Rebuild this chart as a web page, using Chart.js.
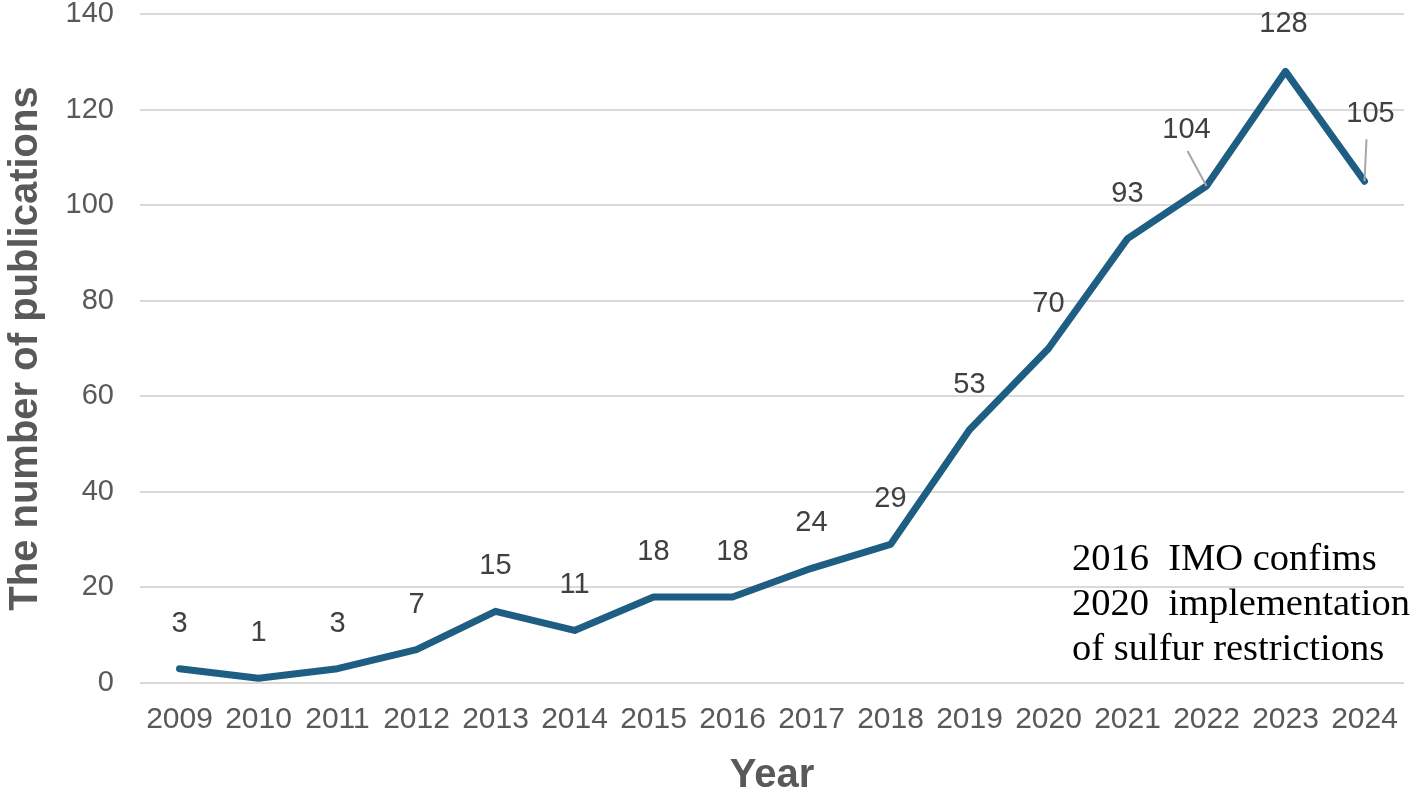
<!DOCTYPE html>
<html>
<head>
<meta charset="utf-8">
<script src="https://cdn.jsdelivr.net/npm/chart.js@4"></script>
<style>
  html, body { margin: 0; padding: 0; background: #fff; }
  #wrap { width: 1417px; height: 793px; position: relative; }
  #note {
    position: absolute; left: 1072px; top: 535px;
    font-family: 'Liberation Serif', 'Times New Roman', serif;
    font-size: 38.5px; line-height: 45px; color: #000; white-space: pre;
  }
</style>
</head>
<body>
<div id="wrap">
  <canvas id="pubChart" width="1417" height="793"></canvas>
  <div id="note">2016  IMO confims
2020  implementation
of sulfur restrictions</div>
</div>
<script>
const years = ['2009', '2010', '2011', '2012', '2013', '2014', '2015', '2016',
               '2017', '2018', '2019', '2020', '2021', '2022', '2023', '2024'];
const publications = [3, 1, 3, 7, 15, 11, 18, 18, 24, 29, 53, 70, 93, 104, 128, 105];
const yTicks = [0, 20, 40, 60, 80, 100, 120, 140];

// label offsets (px) where the label is pulled away from its point
const labelShift = { 13: [-20, -56, true], 14: [-2, -47, false], 15: [6, -67, true] };

const labelPlugin = {
    id: 'pointLabels',
    afterDatasetsDraw(chart) {
        const ctx = chart.ctx;
        const pts = chart.getDatasetMeta(0).data;
        ctx.save();
        ctx.font = "29px 'Liberation Sans', sans-serif";
        ctx.textAlign = 'center';
        ctx.textBaseline = 'middle';
        pts.forEach((p, i) => {
            const s = labelShift[i] || [0, -45, false];
            const lx = p.x + s[0], ly = p.y + s[1];
            if (s[2]) {
                ctx.strokeStyle = '#a6a6a6';
                ctx.lineWidth = 2;
                ctx.beginPath();
                if (i === 13) { ctx.moveTo(lx + 1, ly + 21); }
                else { ctx.moveTo(lx - 4, ly + 25); }
                ctx.lineTo(p.x, p.y);
                ctx.stroke();
            }
            ctx.fillStyle = '#404040';
            ctx.fillText(String(publications[i]), lx, ly);
        });
        ctx.restore();
    }
};

new Chart(document.getElementById('pubChart'), {
    type: 'line',
    data: {
        labels: years,
        datasets: [{
            data: publications,
            borderColor: '#1f5e83',
            borderWidth: 7,
            pointRadius: 0,
            tension: 0,
            borderJoinStyle: 'round',
            borderCapStyle: 'round'
        }]
    },
    options: {
        responsive: false,
        animation: false,
        layout: { padding: { top: 14, right: 13, left: 0, bottom: 0 } },
        plugins: { legend: { display: false }, tooltip: { enabled: false } },
        scales: {
            x: {
                offset: true,
                grid: { display: false },
                border: { display: false },
                ticks: {
                    color: '#595959', padding: 11, maxRotation: 0, autoSkip: false,
                    font: { size: 30, family: "'Liberation Sans', sans-serif" }
                },
                title: {
                    display: true, text: 'Year', color: '#595959',
                    font: { size: 40, weight: 'bold', family: "'Liberation Sans', sans-serif" },
                    padding: { top: 12, bottom: -7 }
                },
                afterFit(scale) { scale.height = 110; scale.paddingLeft = 0; scale.paddingRight = 0; }
            },
            y: {
                min: 0, max: 140,
                afterBuildTicks(scale) { scale.ticks = yTicks.map(v => ({ value: v })); },
                grid: { color: '#d9d9d9', lineWidth: 2, drawTicks: false },
                border: { display: false },
                ticks: {
                    color: '#595959', padding: 26,
                    font: { size: 29, family: "'Liberation Sans', sans-serif" }
                },
                title: {
                    display: true, text: 'The number of publications', color: '#595959',
                    font: { size: 40, weight: 'bold', family: "'Liberation Sans', sans-serif" },
                    padding: { top: 2, bottom: 6 }
                },
                afterFit(scale) { scale.width = 140; scale.paddingTop = 0; scale.paddingBottom = 0; }
            }
        }
    },
    plugins: [labelPlugin]
});
</script>
</body>
</html>
